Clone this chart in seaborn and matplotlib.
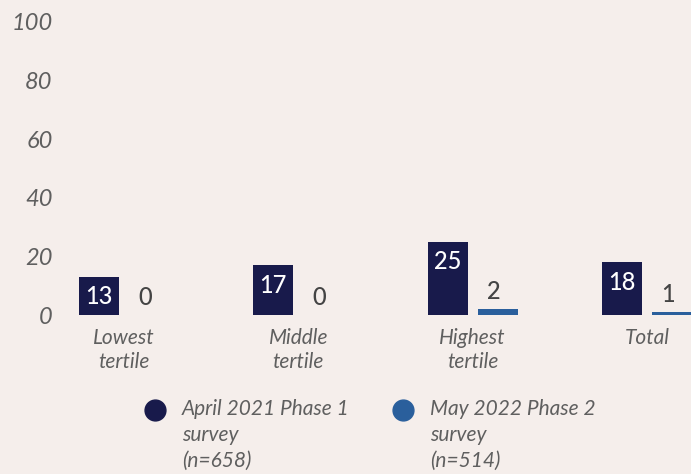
import matplotlib
matplotlib.use("Agg")
import matplotlib.pyplot as plt
from matplotlib.lines import Line2D
import seaborn as sns
import pandas as pd

categories = ["Lowest\ntertile", "Middle\ntertile", "Highest\ntertile", "Total"]
series_names = ["April 2021 Phase 1\nsurvey\n(n=658)", "May 2022 Phase 2\nsurvey\n(n=514)"]
april_2021 = [13, 17, 25, 18]
may_2022 = [0, 0, 2, 1]
y_ticks = [0, 20, 40, 60, 80, 100]

BG = "#f5eeeb"
NAVY = "#181a4b"
BLUE = "#2a5f9c"
GRAY = "#5f5f5f"

sns.set_theme(style="white")
plt.rcParams["font.family"] = ["Lato", "DejaVu Sans"]

df = pd.DataFrame({
    "category": categories * 2,
    "series": [series_names[0]] * 4 + [series_names[1]] * 4,
    "value": april_2021 + may_2022,
})

W, H = 691, 474
fig = plt.figure(figsize=(W / 100, H / 100), dpi=100, facecolor=BG)
ax = fig.add_axes([65 / W, (H - 315) / H, (W - 65) / W, 315 / H])
ax.set_facecolor(BG)

sns.barplot(data=df, x="category", y="value", hue="series",
            palette=[NAVY, BLUE], width=0.574, gap=0.2,
            legend=False, ax=ax, saturation=1, linewidth=0)

px_per_unit = 293 / 100
ax.set_ylim(0, 100 + 22 / px_per_unit)
ax.set_xlim(-(124 - 65) / 174.3, 3 + (691 - 647) / 174.3)
ax.set_xlabel("")
ax.set_ylabel("")
ax.set_yticks(y_ticks)
ax.set_yticklabels([str(t) for t in y_ticks], fontsize=17, style="italic", color=GRAY)
ax.set_xticks(range(len(categories)))
ax.set_xticklabels(categories, fontsize=15, style="italic", color=GRAY, linespacing=1.3)
ax.tick_params(axis="both", length=0)
ax.tick_params(axis="x", pad=9)
ax.tick_params(axis="y", pad=9)
for s in ax.spines.values():
    s.set_visible(False)
ax.grid(False)

# value labels
cont_a, cont_b = ax.containers[0], ax.containers[1]
for bar, v in zip(cont_a, april_2021):
    ax.annotate(str(v), (bar.get_x() + bar.get_width() / 2, v),
                xytext=(0, -20), textcoords="offset pixels",
                ha="center", va="center", color="white", fontsize=17, fontweight="medium")
for bar, v in zip(cont_b, may_2022):
    ax.annotate(str(v), (bar.get_x() + bar.get_width() / 2, v),
                xytext=(-4, 6), textcoords="offset pixels",
                ha="center", va="bottom", color="#444444", fontsize=17, fontweight="medium",
                annotation_clip=False)

# legend
for (mx, tx, col, name) in [(155, 182, NAVY, series_names[0]), (403, 430, BLUE, series_names[1])]:
    fig.add_artist(Line2D([mx / W], [1 - 410 / H], marker="o", markersize=15,
                          color=col, linestyle="none", transform=fig.transFigure))
    fig.text(tx / W, 1 - 399 / H, name, ha="left", va="top", fontsize=15,
             style="italic", color=GRAY, linespacing=1.38)

fig.savefig("out.png", dpi=100, facecolor=BG)
